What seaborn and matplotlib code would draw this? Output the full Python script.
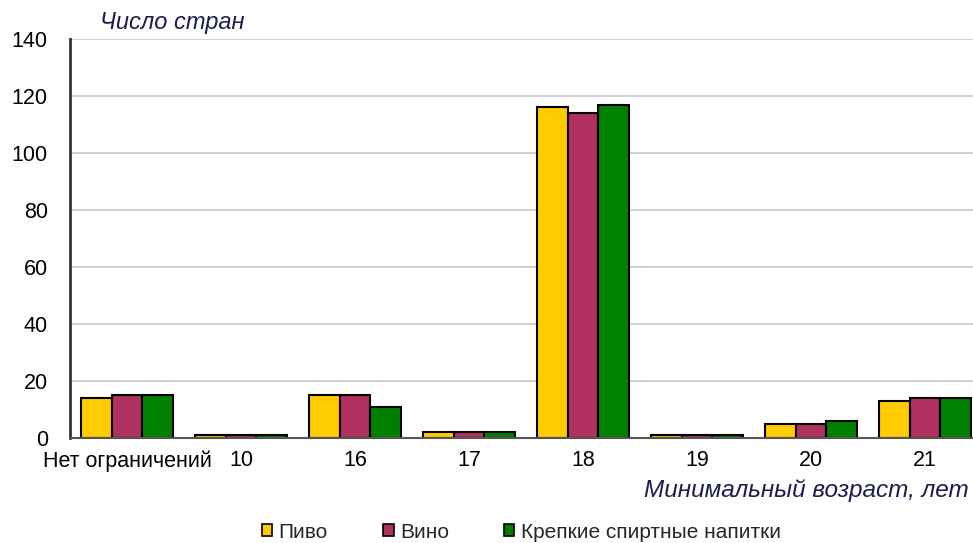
import matplotlib
matplotlib.use("Agg")
import matplotlib.pyplot as plt
import seaborn as sns
import pandas as pd
from matplotlib.patches import Patch

categories = ["Нет ограничений", "10", "16", "17", "18", "19", "20", "21"]
beer = [14, 1, 15, 2, 116, 1, 5, 13]
wine = [15, 1, 15, 2, 114, 1, 5, 14]
spirits = [15, 1, 11, 2, 117, 1, 6, 14]
series_names = ["Пиво", "Вино", "Крепкие спиртные напитки"]
colors = ["#FFCC00", "#B03060", "#008000"]
y_ticks = [0, 20, 40, 60, 80, 100, 120, 140]

rows = []
for name, vals in zip(series_names, [beer, wine, spirits]):
    for cat, v in zip(categories, vals):
        rows.append({"age": cat, "drink": name, "count": v})
df = pd.DataFrame(rows)

sns.set_theme(style="white")
plt.rcParams["font.family"] = ["Liberation Sans", "DejaVu Sans"]

fig = plt.figure(figsize=(9.73, 5.43), dpi=100)
ax = fig.add_axes([70 / 973, 1 - 438 / 543, 912 / 973, 399 / 543])

sns.barplot(data=df, x="age", y="count", hue="drink", order=categories,
            hue_order=series_names, palette=colors, width=0.8,
            edgecolor="black", linewidth=1.5, saturation=1, ax=ax,
            legend=False)

ax.set_xlim(-0.5, 7.5)
ax.set_ylim(0, 140)
ax.set_yticks(y_ticks)
ax.set_yticklabels([str(t) for t in y_ticks])
ax.tick_params(axis="x", length=0, pad=9, labelsize=15.5, labelcolor="black")
ax.tick_params(axis="y", length=0, pad=16, labelsize=15.5, labelcolor="black")
ax.grid(axis="y", color="#c8c8c8", linewidth=1.2)
ax.set_axisbelow(True)
ax.set_xlabel("")
ax.set_ylabel("")
for side in ["top", "right"]:
    ax.spines[side].set_visible(False)
ax.spines["left"].set_color("#333333")
ax.spines["left"].set_linewidth(2)
ax.spines["bottom"].set_color("#555555")
ax.spines["bottom"].set_linewidth(1.5)

fig.text(100 / 973, 1 - 23 / 543, "Число стран", fontsize=17, style="italic",
         color="#1c1c50", va="center", ha="left")
fig.text(969 / 973, 1 - 491 / 543, "Минимальный возраст, лет", fontsize=17.5,
         style="italic", color="#1c1c50", va="center", ha="right")

handles = [Patch(facecolor=c, edgecolor="black", linewidth=1.2) for c in colors]
fig.legend(handles, series_names, loc="center left",
           bbox_to_anchor=(262 / 973, 1 - 532 / 543), ncol=3, frameon=False,
           fontsize=15, handlelength=0.5, handleheight=0.5,
           handletextpad=0.3, columnspacing=2.65, borderaxespad=0,
           borderpad=0)

fig.savefig("out.png", dpi=100)
